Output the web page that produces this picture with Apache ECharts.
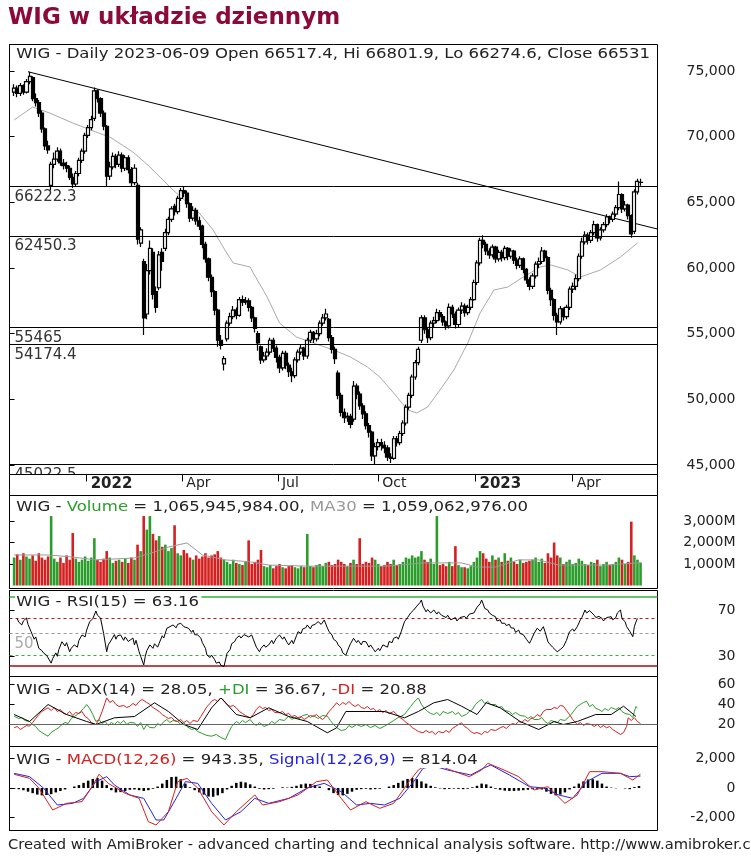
<!DOCTYPE html>
<html><head><meta charset="utf-8">
<script src="https://cdn.jsdelivr.net/npm/echarts@6/dist/echarts.min.js"></script>
<style>html,body{margin:0;padding:0;background:#fff}#c{width:751px;height:857px}</style>
</head><body><div id="c"></div>
<script>
// ---------- DATA ----------
const candleDay = [3,5,7,9,11,13,15,17,19,21,23,25,27,29,31,33,35,37,39,41,
43,45,47,49,51,53,55,57,59,61,63,65,67,69,71,73,75,77,79,81,
83,85,87,89,91,93,95,97,99,101,103,105,107,109,111,113,115,117,119,121,
123,125,127,129,131,133,135,137,139,141,143,145,147,149,151,153,155,157,159,161,
163,165,167,169,171,173,175,177,179,181,183,185,187,189,191,193,195,197,199,201,
203,205,207,209,211,213,215,217,219,221,223,225,227,229,231,233,235,237,239,241,
243,245,247,249,251,253,255,257,259,261,263,265,267,269,271,273,275,277,279,281,
283,285,287,289,291,293,295,297,299,301,303,305,307,309,311,313,315,317,319,321,
323,325,327,329,331,333,335,337,339,341,343,345,347,349,351,353,355,357,359,361,
363,365,367,369,371,373,375,377,379,381,383,385,387,389,391,393,395,397,399,401,
403,405,407,409];
const open = [73400,73700,73300,73900,73400,74200,74500,72900,72600,71800,70600,69300,66300,67900,68300,68900,68000,67800,67600,66900,
66400,67200,68200,68900,70100,70700,71400,73500,72900,71800,70800,67000,67700,68500,67900,68600,67600,68400,67500,66500,
66300,61900,60500,56500,59800,61200,58200,58500,61200,61500,62700,63700,64700,64300,65300,65900,65700,64900,63800,64400,
63600,63200,61800,60700,59300,58200,56800,54500,52700,54600,55800,56300,56800,56400,57600,57400,57500,57000,56200,55000,
54000,53000,53300,53600,54500,53900,53200,52400,53500,52600,52100,51800,53000,53600,53900,53300,54500,55100,54600,55000,
55800,56200,56100,54700,53800,52000,50300,49000,48600,48700,48500,51000,50400,49500,48900,48000,47500,45700,46400,46700,
46500,46300,45600,45500,47000,46700,47400,48200,49400,50300,51700,52800,54500,56200,55300,54700,55800,56000,56600,56300,
55900,55600,57000,56500,55700,56800,57100,56600,57000,57600,58900,60400,62100,61800,61300,61000,61600,60700,61200,60800,
61500,60900,61300,60600,60200,60700,59900,59100,58600,59400,60300,60500,61300,60800,58300,57600,56400,55900,56900,56300,
57000,58400,58600,59200,60900,62000,62500,62100,62700,63300,62300,62900,63300,63900,63700,64100,64600,65600,64500,64800,
64000,62800,65800,66517.4];
const close = [73700,73300,73900,73400,74200,74600,72900,72600,71800,70600,69300,69000,67900,68300,68900,68000,67800,67600,66900,66400,
67200,68200,68900,70100,70700,71300,73500,72900,71800,70800,67000,67700,68500,67900,68600,67600,68400,67500,66500,67600,
62200,62900,56200,59800,61500,58000,57000,61000,60500,62700,63700,64500,64300,65300,65900,65700,64900,63800,64400,63600,
63200,61800,60700,59300,58200,56800,54500,54100,53100,55800,56300,56800,56400,57600,57400,57500,57000,56200,55400,54300,
53000,53300,53600,54500,53900,53200,52400,53500,52600,52100,51800,53000,53600,53900,53300,54500,55100,54600,55000,55800,
56200,56500,54700,53800,53100,50300,49000,48600,48700,48100,51000,50400,49500,48900,48000,47500,45700,46400,46700,46500,
46300,45600,45500,47000,46700,47400,48200,49400,50300,51700,52800,53800,56200,55300,54700,55800,56000,56600,56300,55900,
55600,57000,56500,55700,56800,57100,56600,57000,57600,58900,60400,62100,61800,61300,61000,61600,60700,61200,60800,61500,
60900,61300,60600,60200,60700,59900,59100,58600,59400,60300,60500,61300,60800,58300,57600,56400,55900,56900,56300,57000,
58400,58600,59200,60900,62000,62500,62100,62700,63300,62300,62900,63300,63900,63700,64100,64600,65600,64500,64800,64000,
62600,65800,66600,66531];
const low = [73100,73000,73100,73200,73300,74000,72700,72300,71500,70300,69000,68700,65900,67600,68100,67800,67500,67300,66700,66100,
66200,67000,68000,68700,69900,70500,71200,72600,71500,70500,66200,66700,67500,67600,67700,67300,67400,67200,66200,66300,
61800,61600,54900,56100,59500,57600,56600,58300,59800,61300,62500,63500,64000,64100,65100,65400,64600,63500,63600,63300,
62900,61500,60400,59000,57800,56400,54000,53800,52200,54400,55600,56100,56100,56300,57100,57200,56700,55900,55100,53700,
52700,52800,53000,53400,53600,52800,52000,52200,52300,51700,51300,51600,52800,53400,53000,53100,54300,54300,54400,54800,
55600,56000,54400,53500,52700,50000,48700,48200,48300,47800,48300,50000,49200,48500,47700,47100,45300,45000,46100,46100,
45900,45300,45150,45400,46400,46500,47200,48000,49200,50100,51500,52600,54300,55000,54300,54500,55500,55800,56000,55600,
55300,55400,56200,55400,55500,56500,56300,56400,56800,57500,58700,60200,61500,61000,60700,60800,60400,60500,60500,60600,
60600,60700,60300,59900,60000,59600,58800,58300,58400,59200,60000,60300,60500,58000,57100,56000,54900,55700,56000,56100,
56800,58100,58300,59000,60700,61800,61800,61900,62500,62000,62100,62700,63100,63400,63500,63900,64400,64200,64300,63700,
62300,62600,65600,66274.6];
const high = [74000,73900,74100,74000,74400,74950,74600,73300,72800,72000,70700,69700,68100,68800,69200,69100,68300,68100,67800,67200,
67400,68400,69100,70300,70900,71600,73750,73600,73000,72000,70900,68100,68800,68700,68900,68800,68600,68600,67700,67900,
66500,63100,60700,60300,62100,61500,58600,61300,61500,63000,63900,64700,64900,65500,66100,66250,65900,65000,64700,64600,
63900,63300,62000,60800,59500,58300,56900,54900,53300,56000,56600,57100,57000,57800,57900,57800,57700,57100,56300,55200,
54100,53600,53900,54700,54700,54100,53400,53700,53700,52800,52400,53200,53800,54200,54000,54700,55300,55200,55300,56000,
56500,56900,56200,54900,54000,52200,50500,49300,49000,48900,51400,51200,50600,49700,49100,48200,47600,46700,47000,47000,
46800,46500,45900,47200,47200,47600,48400,49600,50500,51900,53000,54000,56400,56400,55500,56000,56300,56900,56800,56500,
56000,57300,57200,56700,57000,57400,57300,57200,57800,59100,60600,62300,62500,62000,61500,61800,61700,61400,61400,61700,
61600,61500,61400,60800,60900,60800,60000,59300,59600,60500,60800,61600,61400,60900,58500,57700,56600,57100,57000,57200,
58600,58900,59500,61100,62300,62800,62700,62900,63600,63400,63100,63500,64100,64000,64300,64800,66600,65700,65100,64900,
64100,66000,66800,66801.9];
const maDay = [3,15,26,41,56,65,80,91,106,123,132,140,145,156,158,167,175,186,197,210,221,232,240,249,258,264,271,279,288,297,305,314,323,333,344,351,362,370,383,396,407];
const maVal = [71275,72265,71808,71047,70361,69980,68838,67696,65944,64192,62898,61300,60384,60080,59623,57795,55815,54748,54292,53758,53225,52464,51702,50484,49189,48960,49417,50712,52235,54292,56576,58328,58556,59318,60080,60232,59851,59318,59851,60841,61908];
const trendDay = [12, 420];
const trendVal = [74950, 62970];
const levels = [66222.3, 62450.3, 55465, 54174.4, 45022.5];
const priceTicks = [45000,50000,55000,60000,65000,70000,75000];
const dateTickDay = [50,112,174,239,302,365];
const dateTickLabel = ['2022','Apr','Jul','Oct','2023','Apr'];

const volume = [1300,1450,1200,1500,1350,1250,1400,1150,1500,1300,1200,1350,3230,1250,1100,1300,1050,1400,1200,2440,
1250,1100,1200,1350,1150,1300,2200,1200,1100,1250,1600,1300,1050,1150,1200,1100,1250,1050,1300,1200,
1900,1600,3230,2600,3230,2400,2100,2300,1800,1900,1600,1750,2800,1500,1400,1650,1500,1300,1200,1400,
1250,1350,1500,1300,1400,1450,1600,1300,1200,1100,1000,1200,1050,1000,950,1100,2100,1000,1100,1200,
1650,900,850,950,800,900,1000,850,800,900,950,850,800,900,850,2400,900,850,950,1000,
900,1050,1100,950,1000,1200,1100,1000,900,1050,1200,1000,2200,1000,1100,1050,1300,1200,1000,900,
950,1100,1000,1200,950,1000,1100,1300,1250,1400,1300,1350,1600,1200,1100,1250,1000,3230,950,1000,
900,1100,900,1830,950,850,850,800,900,1100,1300,1600,1500,1250,1100,1400,1200,1300,1100,1500,
1150,1300,1100,1000,1200,1050,1100,1150,1200,1300,1100,1250,1050,1500,1300,2000,1400,1300,1000,1100,
1200,1000,1050,1250,1150,1000,950,1100,1050,1200,900,1000,1100,950,1000,1100,1300,1200,1000,1100,
2970,1400,1200,1066];
const volMaDay = [3,25,40,56,81,94,103,115,125,140,156,168,194,244,268,293,303,315,330,343,356,368,387,409];
const volMaVal = [1420,1420,1330,1190,1280,1560,1790,1980,1420,1190,1100,950,900,900,1050,1050,860,860,1190,1190,950,950,950,1059];
const volTicks = [1000,2000,3000];

const rsiDay = [5,6,8,9,11,12,14,16,17,19,21,22,24,25,27,28,30,31,32,34,36,37,39,40,42,44,45,47,49,50,52,54,56,57,59,61,63,64,66,68,69,70,72,74,75,77,78,80,81,82,84,85,87,88,89,91,93,94,96,97,99,100,102,104,106,108,109,111,113,114,116,118,119,120,122,124,125,127,128,130,131,133,134,136,137,139,141,143,144,146,147,149,150,152,153,155,157,158,160,162,163,165,166,168,170,171,173,175,177,178,180,181,183,184,186,187,189,190,192,193,195,196,198,200,202,204,206,207,209,210,212,213,215,216,218,220,221,223,225,226,228,229,231,233,234,236,237,239,240,242,243,245,246,248,249,251,252,254,256,258,260,262,264,266,267,268,270,271,273,275,277,278,280,281,283,284,286,287,289,290,292,293,295,296,298,299,301,303,305,306,307,308,310,311,313,315,316,318,319,321,322,324,325,327,328,330,331,333,334,335,337,338,340,342,344,346,347,349,350,352,353,355,356,357,359,361,362,363,365,366,368,370,371,373,374,376,377,379,380,382,384,385,387,388,390,391,393,394,396,397,399,400,402,404,405,406,407];
const rsiVal = [63,60,57.5,61,63.6,58,51.6,45,47,37,35,33,31,29.6,24,28,33,30,36,42.8,39,42,34,37,40,38,44,48.7,47,53,60.4,63,69.7,66,63.6,50,34,40,44.3,49,45,48,48.7,44,47,43,44.3,46,40,44,34,30,22.4,30,35,40,37,41,38,41.4,48,46,54.6,56,57.5,55,58,59,56,57.5,54.6,51,53,49,48.7,46,42,37,31,29,31,27,24,25,22,21,32.6,36,41,43,45.8,48,46,49,50,47,48.7,45,38,34,37,40,38,40,44,41,46,48.7,45,47,42,40,44,41,48,51.6,50,54,55,57.5,54,57,58,60.4,58,61.8,55,52,48.7,45,43,40,37,33,31,38,41,45.8,42,44,40,43,42.8,38,40,36,34,37,35,40,41.4,38,43,42,45.8,47,45,52,60.4,64,68,70.6,74,77,79.4,74,69,71,68,70.6,67,69,66,67.7,64,66,62,61.8,64,61,64,63.3,65,63,67,66.2,68,73,76,79.4,76,72,70.6,68,66,64.7,61,62,59,59,57,58,55,54.6,51,53,50,49,48.7,45,41.4,44,50,54.6,52,56,52,42.8,41,38,37,34,34,36,38.4,44,48,51.6,54,52,56,62,64,70.6,68,70,69,66,64,65,63.3,61,64,63,64.7,62,64,68,70.6,63,60.4,56,52,47.2,56,60,63.16];
const rsiLevels = [82, 63.16, 50, 31, 22];
const rsiTicks = [30, 70];

const adxDay = [3,13,25,37,50,56,68,81,94,103,113,122,131,137,147,156,168,181,193,206,212,218,231,243,256,265,275,284,293,303,309,318,331,343,353,359,368,380,390,398,406];
const adxVal = [30,23,40,30,23,20,26.7,28,41.7,33,20,15,36.7,46.7,30,26.7,36.7,28,23,11.7,16.7,33,33,33,26.7,33,41.7,45,38.3,30,41.7,36.7,23,15,23,20,23,30,30,38.3,28.05];
const pdiDay = [3,6,8,10,13,15,17,19,21,23,25,27,28,30,32,34,36,38,40,42,44,46,48,50,52,54,56,58,60,62,64,66,68,70,72,74,76,78,81,83,85,87,89,91,94,96,98,100,102,104,106,109,111,113,115,118,120,122,125,128,131,134,137,140,142,144,147,149,151,153,156,158,160,162,165,168,170,172,175,178,181,183,185,188,190,193,195,197,200,203,206,208,210,212,215,218,220,222,225,228,231,234,237,240,243,246,249,252,256,258,260,262,265,267,269,271,273,275,277,279,281,284,287,289,291,293,296,298,300,302,304,306,308,310,312,315,317,319,321,324,326,328,331,334,336,338,340,343,345,347,349,351,353,355,357,360,362,364,366,368,370,372,374,376,378,380,382,384,386,388,390,393,395,397,399,402,404,405,406,407];
const pdiVal = [28.3,26,27,24,23,20,18,14,12,10,8.3,12,10,15,17,20,22,21,26,28,30,33,36,40,36,30,23,25,21,23,19,22,20,23,21,24,20,22,21.7,18,22,15,20,17,16.7,21,19,23,25,22,24,23,20,22,18,15,16,13,11,9,8.3,10,7,5,12,18,23,21,24,22,25,21,19,22,18,20,23,21,25,24,28.3,25,27,26,29,30,27,29,26,29,28.3,24,20,17,14,15,19,17,20,18,20,17,19,16,18.3,21,24,27,30,34,38,42,46.7,40,36,33,31,30,32,29,33,31,33,30,32,28,30,33,35,40,43,45,41,43,40,40,37,38,34,33,30,32,29,28.3,26,28,25,25,27,23,21,24,23,22,25,24,26.7,30,34,38,40,42,43.3,38,40,36,35,33,36,34,37,35,37,33,31,30,27,33,38,36.67];
const mdiDay = [3,5,7,9,11,13,15,17,19,21,23,25,27,29,31,33,35,37,39,41,43,45,47,49,51,53,56,58,60,62,63,65,67,69,71,72,74,76,78,80,82,84,86,87,89,91,93,95,97,99,101,103,105,107,109,111,113,115,117,119,122,124,126,128,130,131,133,135,137,139,141,143,145,147,149,151,153,156,158,160,162,164,166,168,170,172,175,177,179,181,183,185,187,189,191,193,195,197,199,201,203,205,207,209,212,214,216,218,220,222,224,226,228,230,232,234,236,238,240,242,244,246,249,251,253,255,257,259,261,263,265,268,270,272,274,276,278,281,283,285,287,289,291,293,295,297,299,301,303,306,308,310,312,315,318,320,322,324,326,328,330,332,334,336,338,340,342,344,346,348,349,351,353,355,357,359,361,363,365,368,370,372,374,377,379,381,383,385,387,389,391,393,396,398,400,401,403,405,407,409];
const mdiVal = [16.7,18,15,17,19,18.3,22,26,30,33,35,36.7,34,37,33,35,31,30,33,29,32,31,33,28,26,22,20,25,33,42,46.7,42,44,40,38,36.7,39,37,38.3,41,39,43,45,46.7,42,40,37,35,33,30,28,26,27,24,23,25,22,24,21,24,23,28,33,38,41,43.3,45,43,46.7,44,40,38,39,36.7,33,31,29,26.7,30,35,38.3,36,37,34,35,32,31.7,33,30,31,28,29,26.7,28,25,27,29,28,30,27,25,28,33,36,41.7,39,42,40,43,40,38,40,37,36,38,35,36,33,35,32,34,31,33,30,27,25,22,20,17,15,13,11.7,14,12,13,10,13,11.7,14,12,16,18,20,21.7,18,16,13,11,12,10,13,12,15,14,16.7,18,16,19,21,20,23,22,25,23,26,26.7,30,28,33,35,36.7,35,37,36,39,38.3,34,30,25,20,22,19,21,20,18,20,17,19,16.7,18,15,13,10,12,18,26.7,24,27,23,20.88];
const adxLevel = 20;
const adxTicks = [20, 40, 60];

const macdDay = [3,13,19,28,37,47,53,58,64,75,84,90,95,103,109,115,122,131,139,147,159,164,175,187,199,206,215,221,231,240,249,259,265,272,278,284,298,306,310,318,330,340,349,360,368,376,384,396,404,409];
const macdVal = [934,660,0,-1500,-1045,-930,0,935,318,-363,-705,-2295,-2522,-1614,432,660,0,-1614,-2522,-1614,-477,-1159,-934,-477,432,545,-705,-1500,-934,-1386,-1045,432,1227,1700,1600,1295,773,1227,1681,1341,773,-136,91,-1045,-477,1114,1114,1000,545,943.35];
const sigDay = [3,13,22,31,41,48,56,63,68,78,87,95,100,108,114,122,131,140,150,159,168,181,193,204,215,225,234,243,253,262,268,275,284,299,307,312,324,337,346,356,365,374,384,396,402,409];
const sigVal = [1000,773,0,-1159,-1045,-705,432,773,205,-477,-705,-2181,-2181,-705,432,318,-1045,-2181,-1614,-705,-1045,-705,0,318,-250,-1159,-1045,-1159,-705,432,1341,1500,1227,886,1341,1568,886,91,0,-477,-705,432,1000,1000,773,814.04];
const histDay = [3,6,9,12,15,18,21,24,27,30,33,36,39,42,45,48,51,54,57,60,63,66,69,72,75,78,81,84,87,90,93,96,99,102,105,108,111,114,117,120,123,126,129,132,135,138,141,144,147,150,153,156,159,162,165,168,171,174,177,180,183,186,189,192,195,198,201,204,207,210,213,216,219,222,225,228,231,234,237,240,243,246,249,252,255,258,261,264,267,270,273,276,279,282,285,288,291,294,297,300,303,306,309,312,315,318,321,324,327,330,333,336,339,342,345,348,351,354,357,360,363,366,369,372,375,378,381,384,387,390,393,396,399,402,405,408];
const histVal = [-50,-80,-150,-250,-350,-450,-500,-480,-420,-300,-200,-100,0,100,200,350,500,620,680,500,
200,-150,-300,-280,-200,-120,-100,-150,-200,-150,-50,100,300,550,750,770,600,300,50,-150,
-300,-450,-580,-600,-500,-350,-100,150,350,430,380,250,100,-50,-100,-80,-50,0,50,30,
80,150,250,300,280,200,100,0,-150,-350,-480,-500,-400,-250,-120,-80,-50,-100,-80,-50,
0,100,200,350,500,620,680,600,450,300,150,50,-30,-80,-60,-40,-60,-80,-50,50,
150,300,250,100,-50,-120,-180,-200,-200,-180,-150,-120,-80,-50,-100,-250,-400,-500,-450,-300,
-100,100,300,450,580,600,500,300,100,30,-20,0,-30,-80,60,130];
const macdTicks = [-2000, 0, 2000];

// ---------- STYLE ----------
const FONT = '"DejaVu Sans", Verdana, sans-serif';
const TXT = '#222';
const GREEN = '#2a9d2a', RED = '#d42020', BLUE = '#2323e6';
const frame = {show:true, borderColor:'#000', borderWidth:1, backgroundColor:'#fff'};
const grids = [
  {left:9.5, top:44.5, width:648, height:430},
  {left:9.5, top:495.5, width:648, height:93},
  {left:9.5, top:590.5, width:648, height:86},
  {left:9.5, top:676.5, width:648, height:70},
  {left:9.5, top:746.5, width:648, height:84}
].map(g => Object.assign({}, frame, g));

const fmtNum = v => Number(v).toLocaleString('en-US');
function xAx(i) {
  if (i > 0) return {type:'value', gridIndex:i, min:0, max:420, show:false};
  return {type:'value', gridIndex:0, min:0, max:420, position:'bottom', z:200,
    axisLine:{show:false}, splitLine:{show:false},
    axisTick:{show:true, customValues:dateTickDay, length:7, lineStyle:{color:'#000'}},
    axisLabel:{customValues:dateTickDay, align:'left', margin:2, padding:[0,0,0,4], color:TXT, fontFamily:FONT, fontSize:14,
      formatter: v => { const t = dateTickLabel[dateTickDay.indexOf(v)] || ''; return /^\d{4}$/.test(t) ? '{b|'+t+'}' : t; },
      rich:{b:{fontWeight:'bold', fontFamily:FONT, fontSize:15, color:TXT}}}};
}
function yAx(i, min, max, ticks, fmt) {
  return {type:'value', gridIndex:i, position:'right', min:min, max:max, splitLine:{show:false},
    axisLine:{show:true, lineStyle:{color:'#000'}},
    axisTick:{show:true, customValues:ticks, length:5, lineStyle:{color:'#000'}},
    axisLabel:{customValues:ticks, formatter:fmt, align:'right', margin:78, color:TXT, fontFamily:FONT, fontSize:14}};
}
const pairs = (d, v) => d.map((x, i) => [x, v[i]]);
const lineS = (xi, d, v, color, extra) => Object.assign({type:'line', xAxisIndex:xi, yAxisIndex:xi, data:pairs(d, v), symbol:'none', lineStyle:{color:color, width:1}, silent:true}, extra || {});

function header(y, text, rich, sx) {
  return {type:'text', x:15, y:y, scaleX:sx || 1.18, z:100, zlevel:0,
    style:{text:text, rich:rich || {}, font:'14px ' + FONT, fill:TXT, verticalAlign:'middle', textVerticalAlign:'middle', backgroundColor:'#fff', padding:[1,2,1,1]}};
}
const tok = c => ({fill:c, font:'14px ' + FONT});

const option = {
  animation:false,
  backgroundColor:'#fff',
  grid: grids,
  xAxis: [0,1,2,3,4].map(xAx),
  yAxis: [
    yAx(0, 44276, 77026, priceTicks, fmtNum),
    yAx(1, -140, 4186, volTicks, v => fmtNum(v) + 'M'),
    yAx(2, 12.3, 87.7, rsiTicks, v => String(v)),
    yAx(3, -2, 68, adxTicks, v => String(v)),
    yAx(4, -2897, 2829, macdTicks, v => fmtNum(v))
  ],
  series: [
    {type:'candlestick', xAxisIndex:0, yAxisIndex:0, silent:true, z:3,
      data: candleDay.map((d, i) => [d, open[i], close[i], low[i], high[i]]),
      encode:{x:0, y:[1,2,3,4]}, barWidth:3.6,
      itemStyle:{color:'#fff', color0:'#000', borderColor:'#000', borderColor0:'#000', borderWidth:1.2}},
    lineS(0, maDay, maVal, '#aaaaaa'),
    lineS(0, trendDay, trendVal, '#000', {markLine:{silent:true, symbol:['none','none'], animation:false,
      lineStyle:{color:'#000', type:'solid', width:1},
      label:{position:'insideStartBottom', formatter: p => String(p.value), color:'#333', fontFamily:FONT, fontSize:15, distance:[5,3]},
      data: levels.map(v => ({yAxis:v}))}}),
    {type:'bar', xAxisIndex:1, yAxisIndex:1, silent:true, barWidth:2.6,
      data: pairs(candleDay, volume),
      itemStyle:{color: p => close[p.dataIndex] >= open[p.dataIndex] ? GREEN : RED}},
    lineS(1, volMaDay, volMaVal, '#999999'),
    lineS(2, rsiDay, rsiVal, '#000', {z:5, markLine:{silent:true, symbol:['none','none'], animation:false, label:{show:false},
      data:[
        {yAxis:rsiLevels[0], lineStyle:{color:'#33b233', type:'solid', width:1.5}},
        {yAxis:rsiLevels[1], lineStyle:{color:'#b01818', type:[3,3], width:1}},
        {yAxis:rsiLevels[2], lineStyle:{color:'#999', type:[3,3], width:1},
          label:{show:true, position:'insideStartBottom', formatter:'50', color:'#aaa', fontFamily:FONT, fontSize:15, distance:[5,3]}},
        {yAxis:rsiLevels[3], lineStyle:{color:'#33b233', type:[3,3], width:1}},
        {yAxis:rsiLevels[4], lineStyle:{color:'#a01010', type:'solid', width:1.5}}
      ]}}),
    lineS(3, pdiDay, pdiVal, GREEN),
    lineS(3, mdiDay, mdiVal, RED),
    lineS(3, adxDay, adxVal, '#000', {markLine:{silent:true, symbol:['none','none'], animation:false, label:{show:false},
      lineStyle:{color:'#666', type:'solid', width:1}, data:[{yAxis:adxLevel}]}}),
    {type:'bar', xAxisIndex:4, yAxisIndex:4, silent:true, barWidth:2.5, data:pairs(histDay, histVal), itemStyle:{color:'#000'}},
    lineS(4, sigDay, sigVal, BLUE),
    lineS(4, macdDay, macdVal, RED)
  ],
  graphic: [
    {type:'text', x:8, y:18, z:100, style:{text:'WIG w układzie dziennym', font:'bold 23px ' + FONT, fill:'#8b0a3a', verticalAlign:'middle', textVerticalAlign:'middle'}},
    {type:'rect', z:150, shape:{x:9.5, y:474.5, width:648, height:21}, style:{fill:'#fff', stroke:'#000', lineWidth:1}},
    header(54, 'WIG - Daily 2023-06-09 Open 66517.4, Hi 66801.9, Lo 66274.6, Close 66531'),
    header(507, 'WIG - {g|Volume} = 1,065,945,984.00, {s|MA30} = 1,059,062,976.00', {g:tok(GREEN), s:tok('#999')}),
    header(602, 'WIG - RSI(15) = 63.16'),
    header(690, 'WIG - ADX(14) = 28.05, {g|+DI} = 36.67, {r|-DI} = 20.88', {g:tok(GREEN), r:tok(RED)}),
    header(760, 'WIG - {r|MACD(12,26)} = 943.35, {b|Signal(12,26,9)} = 814.04', {r:tok(RED), b:tok(BLUE)}),
    {type:'text', x:8, y:845, scaleX:1.05, z:100, style:{text:'Created with AmiBroker - advanced charting and technical analysis software. http://www.amibroker.com', font:'14px ' + FONT, fill:TXT, verticalAlign:'middle', textVerticalAlign:'middle'}}
  ]
};
const chart = echarts.init(document.getElementById('c'), null, {renderer:'canvas', width:751, height:857});
chart.setOption(option);
</script>
</body></html>
